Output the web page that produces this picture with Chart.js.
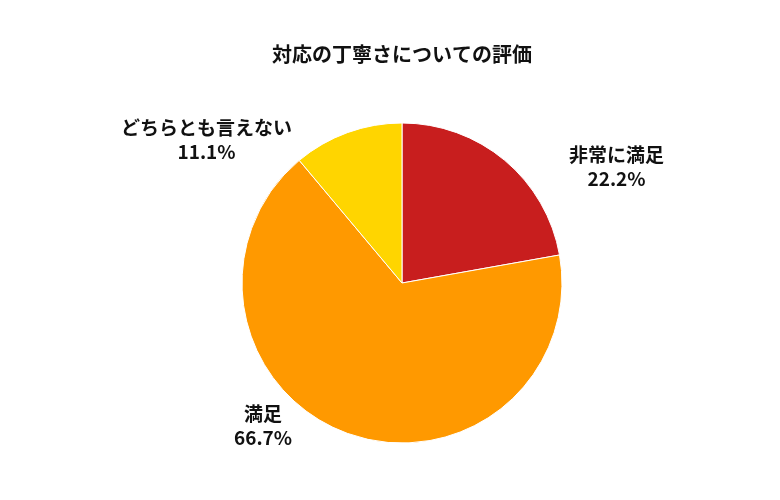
<!DOCTYPE html>
<html><head><meta charset="utf-8">
<script src="https://cdn.jsdelivr.net/npm/chart.js@4"></script>
<style>body{margin:0;background:#fff}#w{width:780px;height:500px}</style>
</head><body><div id="w"><canvas id="c"></canvas></div>
<script>
const categories = ["非常に満足","満足","どちらとも言えない"];
const values = [22.2, 66.7, 11.1];
const colors = ["#C81E1E","#FF9900","#FFD500"];
const F = "'Noto Sans CJK JP','Noto Sans',sans-serif";
const labelPlugin = {
  id:'outLabels',
  afterDatasetsDraw(chart){
    const ctx=chart.ctx; const meta=chart.getDatasetMeta(0);
    ctx.save(); ctx.font="bold 19px "+F; ctx.fillStyle="#111"; ctx.textBaseline="middle"; ctx.textAlign="center";
    meta.data.forEach((arc,i)=>{
      const p=arc.getProps(['x','y','startAngle','endAngle','outerRadius'],true);
      const a=(p.startAngle+p.endAngle)/2;
      const lines=[categories[i], values[i].toFixed(1)+"%"];
      const w=Math.max(...lines.map(l=>ctx.measureText(l).width));
      const x=p.x+Math.cos(a)*(p.outerRadius+30)+(Math.cos(a)>=0?1:-1)*(w/2+45);
      const y=p.y+Math.sin(a)*p.outerRadius*0.95;
      ctx.fillText(lines[0],x,y-12); ctx.fillText(lines[1],x,y+12);
    });
    ctx.restore();
  }
};
new Chart(document.getElementById('c'),{
  type:'pie',
  data:{labels:categories,datasets:[{data:values,backgroundColor:colors,borderColor:"#fff",borderWidth:1,radius:160}]},
  options:{responsive:true,maintainAspectRatio:false,animation:false,
    layout:{padding:{top:20,bottom:0,left:24}},
    plugins:{legend:{display:false},tooltip:{enabled:false},
      title:{display:true,text:"対応の丁寧さについての評価",color:"#111",font:{family:F,size:20,weight:'bold'},padding:{top:22,bottom:0}}}},
  plugins:[labelPlugin]
});
</script></body></html>
